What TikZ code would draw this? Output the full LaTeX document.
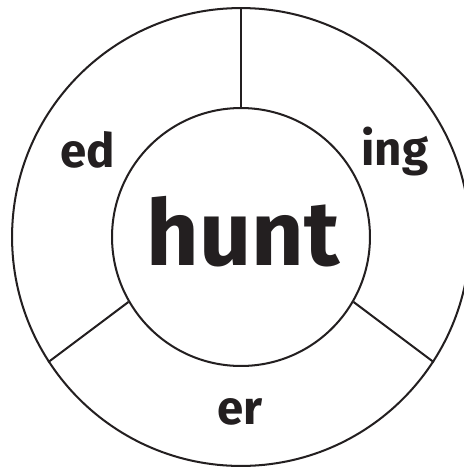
\documentclass[tikz,border=0pt]{standalone}
\usepackage{fontspec}
\setmainfont{Fira Sans}
\usepackage{tikz}
\usetikzlibrary{positioning,shapes}
\definecolor{ink}{HTML}{231F20}
\tikzset{
  ring/.style={draw=ink,circle,line width=1.15pt,inner sep=0pt},
  suffix/.style={text=ink,font=\fontsize{27}{30}\selectfont\bfseries,inner sep=0pt},
  rootword/.style={text=ink,font=\fontsize{52}{56}\selectfont\bfseries,inner sep=0pt},
  divider/.style={draw=ink,line width=1.15pt}
}
\begin{document}
\begin{tikzpicture}[x=0.02cm,y=-0.02cm]
  \useasboundingbox (0,0) rectangle (464,468);
  \clip (0,0) rectangle (464,468);
  \coordinate (mid) at (241,237);
  \node[ring,minimum size=9.16cm] (outer) at (mid) {};
  \node[ring,minimum size=5.16cm] (inner) at (mid) {};
  \node[rootword] (root) at (243,232) {hunt};
  % the three suffix sectors
  \draw[divider] (inner.90) -- (outer.90);
  \draw[divider] (inner.210) -- (outer.213);
  \draw[divider] (inner.330) -- (outer.327);
  \node[suffix] (ed) at (88,150) {ed};
  \node[suffix] (ing) at (395,152) {ing};
  \node[suffix] (er) at (240,412) {er};
\end{tikzpicture}
\end{document}
